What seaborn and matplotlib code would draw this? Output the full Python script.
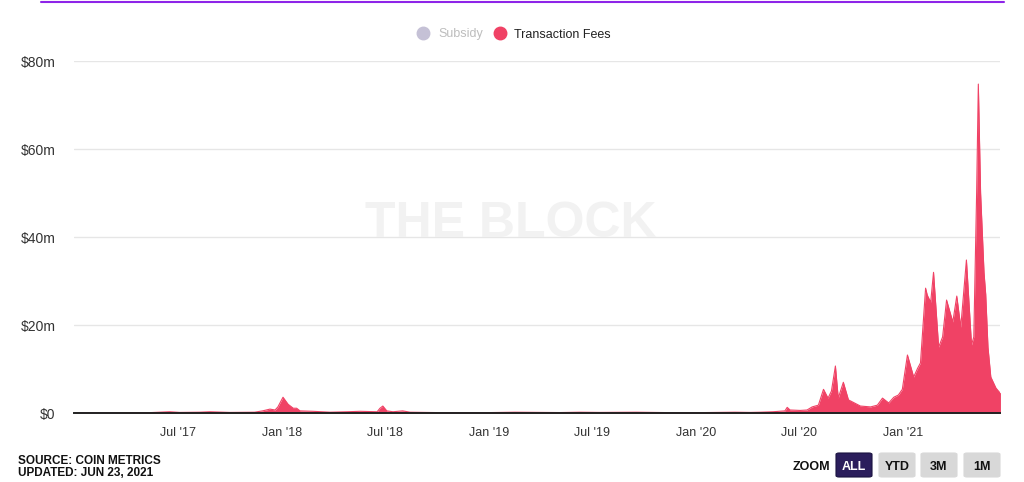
import pandas as pd
import matplotlib.pyplot as plt
import matplotlib.dates as mdates
import seaborn as sns
from matplotlib.patches import FancyBboxPatch
from matplotlib.lines import Line2D
from matplotlib.ticker import FuncFormatter

# daily-ish readings of ETH transaction fees ($m)
dates = [
    "2017-01-01", "2017-03-21", "2017-05-13", "2017-06-17", "2017-07-05",
    "2017-08-09", "2017-08-27", "2017-10-01", "2017-11-14", "2017-11-28",
    "2017-12-11", "2017-12-20", "2017-12-25", "2018-01-03", "2018-01-12",
    "2018-01-21", "2018-01-27", "2018-02-02", "2018-02-25", "2018-03-27",
    "2018-04-26", "2018-05-19", "2018-06-18", "2018-06-23", "2018-06-28",
    "2018-07-05", "2018-07-16", "2018-08-02", "2018-08-15", "2018-10-07",
    "2018-12-17", "2019-02-16", "2019-05-06", "2019-06-10", "2019-07-15",
    "2019-09-18", "2019-11-16", "2020-01-07", "2020-03-10", "2020-04-06",
    "2020-04-24", "2020-05-16", "2020-06-06", "2020-06-10", "2020-06-15",
    "2020-07-03", "2020-07-15", "2020-07-24", "2020-08-04", "2020-08-13",
    "2020-08-21", "2020-08-27", "2020-09-03", "2020-09-08", "2020-09-17",
    "2020-09-26", "2020-10-08", "2020-10-17", "2020-11-04", "2020-11-16",
    "2020-11-25", "2020-12-06", "2020-12-15", "2020-12-23", "2020-12-30",
    "2021-01-08", "2021-01-19", "2021-01-26", "2021-01-31", "2021-02-09",
    "2021-02-12", "2021-02-18", "2021-02-23", "2021-03-04", "2021-03-11",
    "2021-03-18", "2021-03-29", "2021-04-05", "2021-04-12", "2021-04-22",
    "2021-05-01", "2021-05-05", "2021-05-10", "2021-05-13", "2021-05-17",
    "2021-05-23", "2021-05-26", "2021-05-30", "2021-06-04", "2021-06-13",
    "2021-06-20", "2021-06-21",
]
fees = [
    0.02, 0.05, 0.1, 0.3, 0.15,
    0.2, 0.3, 0.15, 0.2, 0.5,
    0.9, 0.7, 1.4, 3.6, 2.0,
    1.1, 1.1, 0.5, 0.4, 0.2,
    0.3, 0.4, 0.3, 1.1, 1.6,
    0.5, 0.3, 0.5, 0.2, 0.1,
    0.08, 0.2, 0.12, 0.2, 0.15,
    0.2, 0.1, 0.1, 0.2, 0.15,
    0.2, 0.3, 0.5, 1.3, 0.7,
    0.6, 0.7, 1.4, 1.8, 5.4,
    3.4, 5.0, 10.7, 3.4, 7.0,
    3.0, 2.2, 1.6, 1.4, 1.8,
    3.4, 2.3, 3.6, 4.1, 5.4,
    13.2, 8.2, 10.2, 11.4, 28.4,
    26.8, 25.2, 32.0, 15.0, 17.3,
    25.7, 20.7, 26.6, 19.5, 34.8,
    15.5, 17.3, 50.0, 74.8, 50.0,
    32.0, 27.0, 15.0, 8.2, 5.7,
    4.6, 4.8,
]
y_ticks = [0, 20, 40, 60, 80]
x_ticks = ["2017-07-01", "2018-01-01", "2018-07-01", "2019-01-01",
           "2019-07-01", "2020-01-01", "2020-07-01", "2021-01-01"]

RED = "#F04265"
GREY_DOT = "#C5C1D6"

df = pd.DataFrame({"date": pd.to_datetime(dates), "fees": fees})

sns.set_theme(style="white")
plt.rcParams["font.family"] = ["Liberation Sans", "DejaVu Sans"]

W, H = 1024, 482


def fy(py):
    # pixel row -> figure fraction
    return 1 - py / H


fig = plt.figure(figsize=(10.24, 4.82), dpi=100)
ax = fig.add_axes([0.072, 0.143, 0.905, 0.730])

ax.fill_between(df["date"], df["fees"], color=RED, linewidth=0)
sns.lineplot(data=df, x="date", y="fees", ax=ax, color=RED, linewidth=0.8)

ax.set_xlim(pd.Timestamp("2016-12-30"), pd.Timestamp("2021-06-21"))
ax.set_ylim(0, 80)
ax.set_yticks(y_ticks)
ax.yaxis.set_major_formatter(FuncFormatter(lambda v, p: "$0" if v == 0 else f"${v:.0f}m"))
ax.set_xticks(pd.to_datetime(x_ticks))
ax.xaxis.set_major_formatter(mdates.DateFormatter("%b '%y"))
ax.set_xlabel("")
ax.set_ylabel("")
ax.grid(axis="y", color="#E6E6E6", linewidth=1)
ax.set_axisbelow(True)
for s in ["top", "right", "left"]:
    ax.spines[s].set_visible(False)
ax.spines["bottom"].set_color("#222222")
ax.spines["bottom"].set_linewidth(1.4)
ax.spines["bottom"].set_zorder(5)
ax.tick_params(axis="y", length=0, pad=13, labelsize=10, labelcolor="#333333")
ax.tick_params(axis="x", length=0, pad=10, labelsize=9, labelcolor="#333333")

# watermark
fig.text(511 / W, fy(237), "THE BLOCK", ha="center", va="baseline",
         fontsize=36, fontweight="bold", color="#F2F2F2", zorder=0)

# top purple rule
fig.add_artist(Line2D([0.04, 0.98], [0.995, 0.995], color="#8E24E8", linewidth=1.5))

# legend
fig.add_artist(Line2D([423 / W], [fy(33)], marker="o", markersize=9,
                      color=GREY_DOT, linestyle=""))
fig.text(438 / W, fy(37.5), "Subsidy", ha="left", va="baseline", fontsize=9,
         color="#BDBDBD")
fig.add_artist(Line2D([500 / W], [fy(33)], marker="o", markersize=9,
                      color=RED, linestyle=""))
fig.text(514 / W, fy(37.5), "Transaction Fees", ha="left", va="baseline",
         fontsize=9, color="#222222")

# footer
fig.text(18 / W, fy(463.5), "SOURCE: COIN METRICS", ha="left", va="baseline",
         fontsize=8.5, fontweight="bold", color="#111111")
fig.text(18 / W, fy(476.5), "UPDATED: JUN 23, 2021", ha="left", va="baseline",
         fontsize=8.5, fontweight="bold", color="#111111")

# zoom buttons
fig.text(811 / W, fy(469.5), "ZOOM", ha="center", va="baseline",
         fontsize=9, fontweight="bold", color="#111111")
buttons = ["ALL", "YTD", "3M", "1M"]
lefts = [836, 879, 921, 964]
for label, x0 in zip(buttons, lefts):
    active = label == "ALL"
    box = FancyBboxPatch((x0 / W, fy(477)), 36 / W, 24 / H,
                         boxstyle="round,pad=0,rounding_size=0.003",
                         transform=fig.transFigure,
                         facecolor="#2B1E5C" if active else "#D8D8D8",
                         edgecolor="#1A1240" if active else "#D8D8D8", linewidth=0.8)
    fig.add_artist(box)
    fig.text((x0 + 18) / W, fy(469.5), label, ha="center", va="baseline",
             fontsize=9, fontweight="bold", color="white" if active else "#111111")

fig.savefig("out.png", dpi=100)
